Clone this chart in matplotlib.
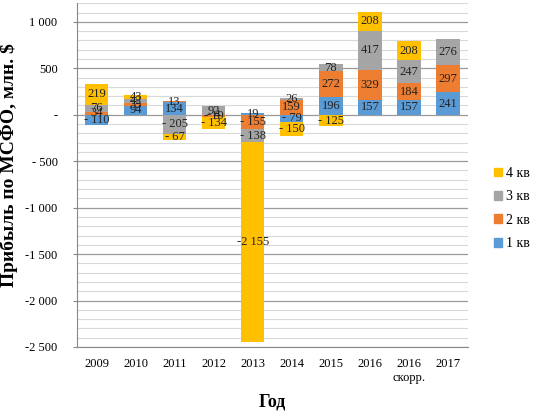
import numpy as np
import matplotlib.pyplot as plt
from matplotlib.ticker import MultipleLocator, FuncFormatter
from matplotlib.patches import Patch

plt.rcParams['font.family'] = ['Liberation Serif', 'DejaVu Serif']

# Данные: прибыль по кварталам, млн. $
years = ['2009', '2010', '2011', '2012', '2013', '2014', '2015', '2016', '2016\nскорр.', '2017']
q1 = [-110, 94, 134, -4, 19, -79, 196, 157, 157, 241]
q2 = [34, 33, 13, -19, -155, 159, 272, 329, 184, 297]
q3 = [76, 42, -205, 92, -138, 26, 78, 417, 247, 276]
q4 = [219, 43, -67, -134, -2155, -150, -125, 208, 208, 0]

series = [('1 кв', q1, '#5B9BD5'), ('2 кв', q2, '#ED7D31'),
          ('3 кв', q3, '#A5A5A5'), ('4 кв', q4, '#FFC000')]


def fmt_val(v):
    s = f"{abs(v):,}".replace(',', ' ')
    if v < 0:
        return ('-' if abs(v) >= 1000 else '- ') + s
    return s


def fmt_tick(v, pos):
    v = int(round(v))
    if v == 0:
        return '-'
    return fmt_val(v)


fig = plt.figure(figsize=(5.5, 4.17), dpi=100)
ax = fig.add_axes([0.14, 0.168, 0.71, 0.824])

x = np.arange(len(years))
pos_base = np.zeros(len(years))
neg_base = np.zeros(len(years))
for name, vals, col in series:
    vals = np.array(vals, dtype=float)
    bottom = np.where(vals >= 0, pos_base, neg_base)
    ax.bar(x, vals, 0.6, bottom=bottom, color=col, zorder=3)
    for xi, b, v in zip(x, bottom, vals):
        if v != 0:
            ax.text(xi, b + v / 2, fmt_val(int(v)), ha='center', va='center',
                    fontsize=9, color='#222222', zorder=4)
    pos_base = np.where(vals >= 0, pos_base + vals, pos_base)
    neg_base = np.where(vals < 0, neg_base + vals, neg_base)

ax.set_xlim(-0.5, len(years) - 0.5)
ax.set_ylim(-2500, 1200)
ax.set_xticks(x)
ax.set_xticklabels(years, fontsize=9)
ax.yaxis.set_major_locator(MultipleLocator(500))
ax.yaxis.set_minor_locator(MultipleLocator(100))
ax.yaxis.set_major_formatter(FuncFormatter(fmt_tick))
ax.tick_params(axis='y', labelsize=9, length=3, color='#888888', pad=11)
ax.tick_params(axis='y', which='minor', length=0)
ax.tick_params(axis='x', length=0, pad=8)
ax.grid(True, axis='y', which='major', color='#9a9a9a', lw=0.9, zorder=0)
ax.grid(True, axis='y', which='minor', color='#d9d9d9', lw=0.8, zorder=0)

for s in ['top', 'right']:
    ax.spines[s].set_visible(False)
ax.spines['left'].set_color('#888888')
ax.spines['bottom'].set_color('#888888')

ax.set_ylabel('Прибыль по МСФО, млн. $', fontsize=14, fontweight='bold')
ax.yaxis.set_label_coords(-0.15, 0.53)
ax.set_xlabel('Год', fontsize=13, fontweight='bold', labelpad=7)

handles = [Patch(color=col, label=name) for name, _, col in series[::-1]]
fig.legend(handles=handles, loc='center left', bbox_to_anchor=(0.875, 0.5),
           frameon=False, fontsize=10, handlelength=0.6, handleheight=0.6,
           handletextpad=0.3, labelspacing=0.75)

fig.savefig('out.png', dpi=100)
